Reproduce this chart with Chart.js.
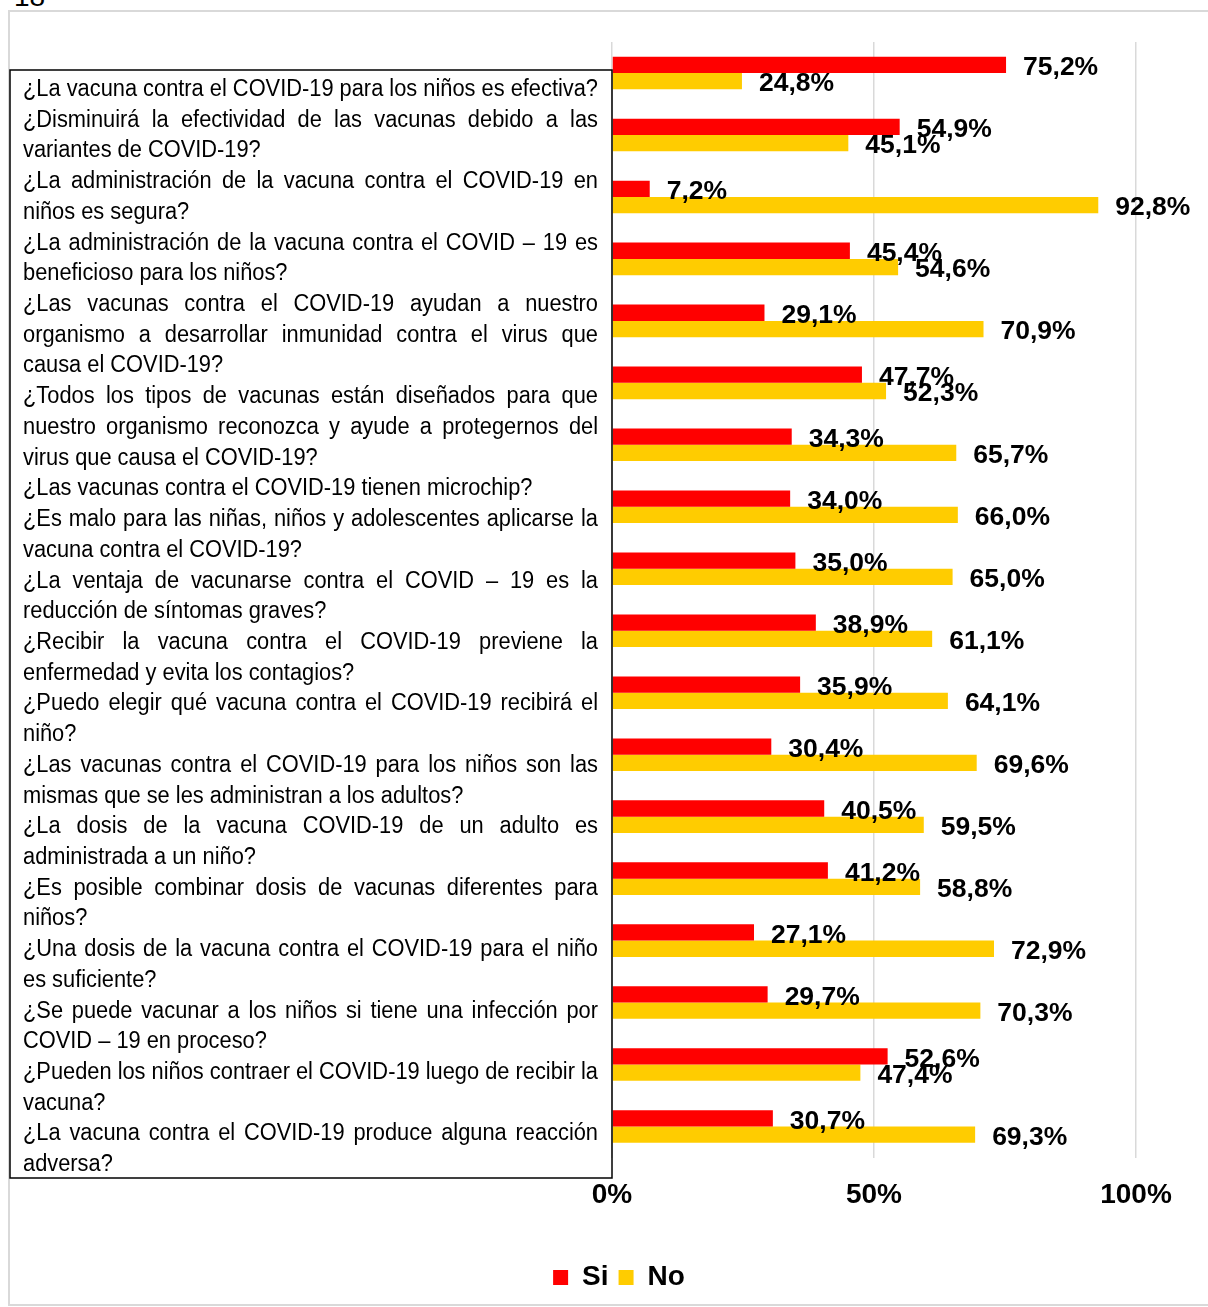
<!DOCTYPE html>
<html>
<head>
<meta charset="utf-8">
<script src="https://cdn.jsdelivr.net/npm/chart.js@4.4.1/dist/chart.umd.min.js"></script>
<style>
  html, body { margin: 0; padding: 0; background: #fff; overflow: hidden; }
  #num { position: absolute; left: 14px; top: -19px; font: 28px "Liberation Sans", Arial, sans-serif; color: #000; }
  #frame { position: absolute; left: 8px; top: 10px; width: 1230px; height: 1296px; border: 2px solid #d9d9d9; box-sizing: border-box; }
  #wrap { position: absolute; left: 0; top: 0; width: 1208px; height: 1307px; }
</style>
</head>
<body>
<div id="num">18</div>
<div id="frame"></div>
<div id="wrap"><canvas id="myBarChart" width="1208" height="1307"></canvas></div>
<script>
// questions, one array of text lines per category (same line breaks as the source)
const categories = [
  ['¿La vacuna contra el COVID-19 para los niños es efectiva?'],
  ['¿Disminuirá la efectividad de las vacunas debido a las', 'variantes de COVID-19?'],
  ['¿La administración de la vacuna contra el COVID-19 en', 'niños es segura?'],
  ['¿La administración de la vacuna contra el COVID – 19 es', 'beneficioso para los niños?'],
  ['¿Las vacunas contra el COVID-19 ayudan a nuestro', 'organismo a desarrollar inmunidad contra el virus que', 'causa el COVID-19?'],
  ['¿Todos los tipos de vacunas están diseñados para que', 'nuestro organismo reconozca y ayude a protegernos del', 'virus que causa el COVID-19?'],
  ['¿Las vacunas contra el COVID-19 tienen microchip?'],
  ['¿Es malo para las niñas, niños y adolescentes aplicarse la', 'vacuna contra el COVID-19?'],
  ['¿La ventaja de vacunarse contra el COVID – 19 es la', 'reducción de síntomas graves?'],
  ['¿Recibir la vacuna contra el COVID-19 previene la', 'enfermedad y evita los contagios?'],
  ['¿Puedo elegir qué vacuna contra el COVID-19 recibirá el', 'niño?'],
  ['¿Las vacunas contra el COVID-19 para los niños son las', 'mismas que se les administran a los adultos?'],
  ['¿La dosis de la vacuna COVID-19 de un adulto es', 'administrada a un niño?'],
  ['¿Es posible combinar dosis de vacunas diferentes para', 'niños?'],
  ['¿Una dosis de la vacuna contra el COVID-19 para el niño', 'es suficiente?'],
  ['¿Se puede vacunar a los niños si tiene una infección por', 'COVID – 19 en proceso?'],
  ['¿Pueden los niños contraer el COVID-19 luego de recibir la', 'vacuna?'],
  ['¿La vacuna contra el COVID-19 produce alguna reacción', 'adversa?']
];

const seriesNames = ['Si', 'No'];
const siValues = [75.2, 54.9, 7.2, 45.4, 29.1, 47.7, 34.3, 34.0, 35.0, 38.9, 35.9, 30.4, 40.5, 41.2, 27.1, 29.7, 52.6, 30.7];
const noValues = [24.8, 45.1, 92.8, 54.6, 70.9, 52.3, 65.7, 66.0, 65.0, 61.1, 64.1, 69.6, 59.5, 58.8, 72.9, 70.3, 47.4, 69.3];
const xTickValues = [0, 50, 100];
const xTickLabels = ['0%', '50%', '100%'];

const FONT = '"Liberation Sans", Arial, sans-serif';

// draws text squeezed horizontally (the source uses a narrow font)
function drawNarrow(ctx, text, x, y, sx) {
  ctx.save();
  ctx.translate(x, y);
  ctx.scale(sx, 1);
  ctx.fillText(text, 0, 0);
  ctx.restore();
}

// bold percentage next to the end of each bar
const barValueLabels = {
  id: 'barValueLabels',
  afterDatasetsDraw(chart) {
    const ctx = chart.ctx;
    ctx.save();
    ctx.font = 'bold 26.5px ' + FONT;
    ctx.fillStyle = '#000';
    ctx.textBaseline = 'middle';
    ctx.textAlign = 'left';
    chart.data.datasets.forEach((ds, i) => {
      chart.getDatasetMeta(i).data.forEach((bar, j) => {
        const txt = ds.data[j].toFixed(1).replace('.', ',') + '%';
        drawNarrow(ctx, txt, bar.x + 17, bar.y + 3, 1);
      });
    });
    ctx.restore();
  }
};

// framed box on the left with the questions as justified text
const questionBox = {
  id: 'questionBox',
  afterDraw(chart) {
    const ctx = chart.ctx;
    const boxLeft = 10, boxRight = chart.chartArea.left, boxTop = 70, boxBottom = 1178;
    const textLeft = boxLeft + 13, textRight = boxRight - 14;
    const lineGap = 30.72;
    ctx.save();
    ctx.strokeStyle = '#000';
    ctx.lineWidth = 1.5;
    ctx.strokeRect(boxLeft, boxTop, boxRight - boxLeft, boxBottom - boxTop);

    ctx.font = '23.5px ' + FONT;
    ctx.fillStyle = '#000';
    ctx.textBaseline = 'alphabetic';
    ctx.textAlign = 'left';
    // first question fills exactly one line: use it to set the squeeze factor
    const sx = (textRight - textLeft) / ctx.measureText(categories[0][0]).width;
    const space = ctx.measureText(' ').width * sx;

    let n = 0;
    categories.forEach(lines => {
      lines.forEach((line, k) => {
        const y = boxTop + 26 + n * lineGap;
        const isLast = k === lines.length - 1;
        if (isLast) {
          drawNarrow(ctx, line, textLeft, y, sx);
        } else {
          const words = line.split(' ');
          const widths = words.map(w => ctx.measureText(w).width * sx);
          const total = widths.reduce((a, b) => a + b, 0);
          const gap = words.length > 1 ? (textRight - textLeft - total) / (words.length - 1) : space;
          let x = textLeft;
          words.forEach((w, m) => {
            drawNarrow(ctx, w, x, y, sx);
            x += widths[m] + gap;
          });
        }
        n++;
      });
    });
    ctx.restore();
  }
};

const ctx = document.getElementById('myBarChart').getContext('2d');
new Chart(ctx, {
  type: 'bar',
  data: {
    labels: categories,
    datasets: [{
      label: seriesNames[0],
      data: siValues,
      backgroundColor: '#ff0000'
    }, {
      label: seriesNames[1],
      data: noValues,
      backgroundColor: '#ffcc00'
    }]
  },
  options: {
    indexAxis: 'y',
    responsive: false,
    animation: false,
    datasets: {
      bar: { categoryPercentage: 0.526, barPercentage: 1.0 }
    },
    layout: {
      padding: { left: 102, right: 72, top: 42, bottom: 5.5 }
    },
    scales: {
      x: {
        min: 0,
        max: 100,
        afterBuildTicks: axis => { axis.ticks = xTickValues.map(v => ({ value: v })); },
        afterFit: axis => { axis.height += 20.4; },
        ticks: {
          padding: 21,
          color: '#000',
          font: { family: FONT, size: 28, weight: 'bold' },
          callback: (v, i) => xTickLabels[i]
        },
        grid: { color: '#d9d9d9', lineWidth: 1.5, drawTicks: false },
        border: { display: false }
      },
      y: {
        afterFit: axis => { axis.width = 510; },
        ticks: { display: false },
        grid: { display: false },
        border: { display: false }
      }
    },
    plugins: {
      tooltip: { enabled: false },
      legend: {
        position: 'bottom',
        labels: {
          boxWidth: 15,
          boxHeight: 15,
          padding: 10,
          color: '#000',
          font: { family: FONT, size: 28, weight: 'bold' }
        }
      }
    }
  },
  plugins: [barValueLabels, questionBox]
});
</script>
</body>
</html>
